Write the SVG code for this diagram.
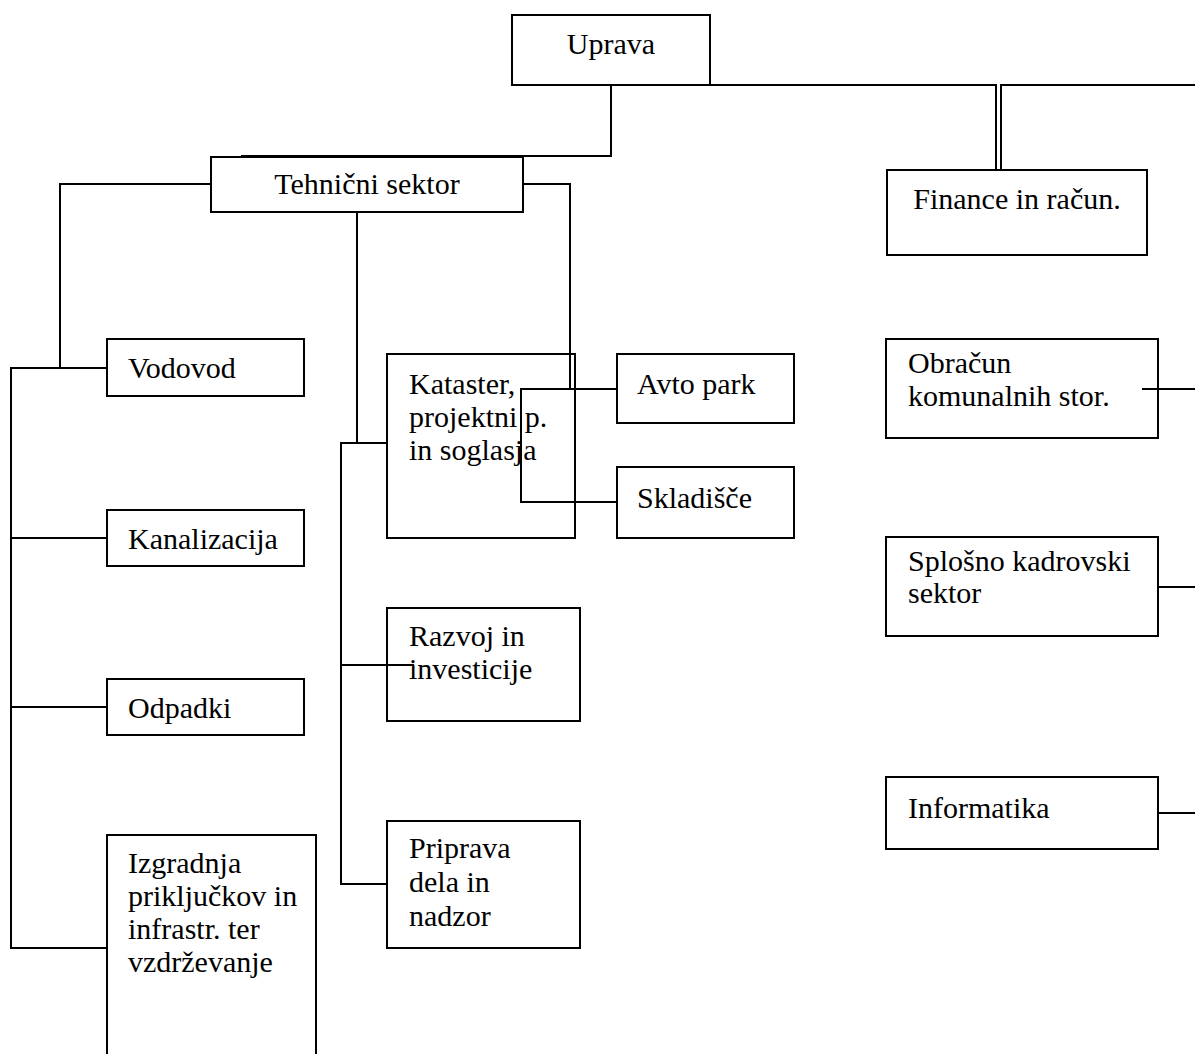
<svg xmlns="http://www.w3.org/2000/svg" width="1195" height="1054" viewBox="0 0 1195 1054">
<style>
.box{fill:#fff;stroke:#000;stroke-width:2}
.ln{fill:none;stroke:#000;stroke-width:2}
text{font-family:"Liberation Serif","Times New Roman",serif;font-size:30px;fill:#000}
.c{text-anchor:middle}
</style>
<rect width="1195" height="1054" fill="#fff"/>
<g id="nodes">
<g id="uprava"><rect class="box" x="512" y="15" width="198" height="70"/><text class="c" x="611" y="54">Uprava</text></g>
<g id="tehnicni"><rect class="box" x="211" y="157" width="312" height="55"/><text class="c" x="367" y="194">Tehnični sektor</text></g>
<g id="finance"><rect class="box" x="887" y="170" width="260" height="85"/><text class="c" x="1017" y="209">Finance in račun.</text></g>
<g id="vodovod"><rect class="box" x="107" y="339" width="197" height="57"/><text x="128" y="378">Vodovod</text></g>
<g id="kanalizacija"><rect class="box" x="107" y="510" width="197" height="56"/><text x="128" y="549">Kanalizacija</text></g>
<g id="odpadki"><rect class="box" x="107" y="679" width="197" height="56"/><text x="128" y="718">Odpadki</text></g>
<g id="izgradnja"><rect class="box" x="107" y="835" width="209" height="230"/><text x="128" y="873"><tspan x="128">Izgradnja</tspan><tspan x="128" dy="33">priključkov in</tspan><tspan x="128" dy="33">infrastr. ter</tspan><tspan x="128" dy="33">vzdrževanje</tspan></text></g>
<g id="kataster"><rect class="box" x="387" y="354" width="188" height="184"/><text x="409" y="394"><tspan x="409">Kataster,</tspan><tspan x="409" dy="33">projektni p.</tspan><tspan x="409" dy="33">in soglasja</tspan></text></g>
<g id="avtopark"><rect class="box" x="617" y="354" width="177" height="69"/><text x="637" y="394">Avto park</text></g>
<g id="skladisce"><rect class="box" x="617" y="467" width="177" height="71"/><text x="637" y="508">Skladišče</text></g>
<g id="razvoj"><rect class="box" x="387" y="608" width="193" height="113"/><text x="409" y="646"><tspan x="409">Razvoj in</tspan><tspan x="409" dy="33">investicije</tspan></text></g>
<g id="priprava"><rect class="box" x="387" y="821" width="193" height="127"/><text x="409" y="858"><tspan x="409">Priprava</tspan><tspan x="409" dy="34">dela in</tspan><tspan x="409" dy="34">nadzor</tspan></text></g>
<g id="obracun"><rect class="box" x="886" y="339" width="272" height="99"/><text x="908" y="373"><tspan x="908">Obračun</tspan><tspan x="908" dy="33">komunalnih stor.</tspan></text></g>
<g id="splosno"><rect class="box" x="886" y="537" width="272" height="99"/><text x="908" y="571"><tspan x="908">Splošno kadrovski</tspan><tspan x="908" dy="32">sektor</tspan></text></g>
<g id="informatika"><rect class="box" x="886" y="777" width="272" height="72"/><text x="908" y="818">Informatika</text></g>
</g>
<g id="connectors">
<path class="ln" d="M611 85 V156 H241"/>
<path class="ln" d="M710 85 H996 V170"/>
<path class="ln" d="M1001 170 V85 H1195"/>
<path class="ln" d="M211 184 H60 V368"/>
<path class="ln" d="M107 368 H11 V948 H107"/>
<path class="ln" d="M11 538 H107"/>
<path class="ln" d="M11 707 H107"/>
<path class="ln" d="M357 212 V443"/>
<path class="ln" d="M387 443 H341 V884 H387"/>
<path class="ln" d="M341 665 H414"/>
<path class="ln" d="M523 184 H570 V389"/>
<path class="ln" d="M617 389 H521 V502 H617"/>
<path class="ln" d="M1142 389 H1195"/>
<path class="ln" d="M1158 587 H1195"/>
<path class="ln" d="M1158 813 H1195"/>
</g>
</svg>
